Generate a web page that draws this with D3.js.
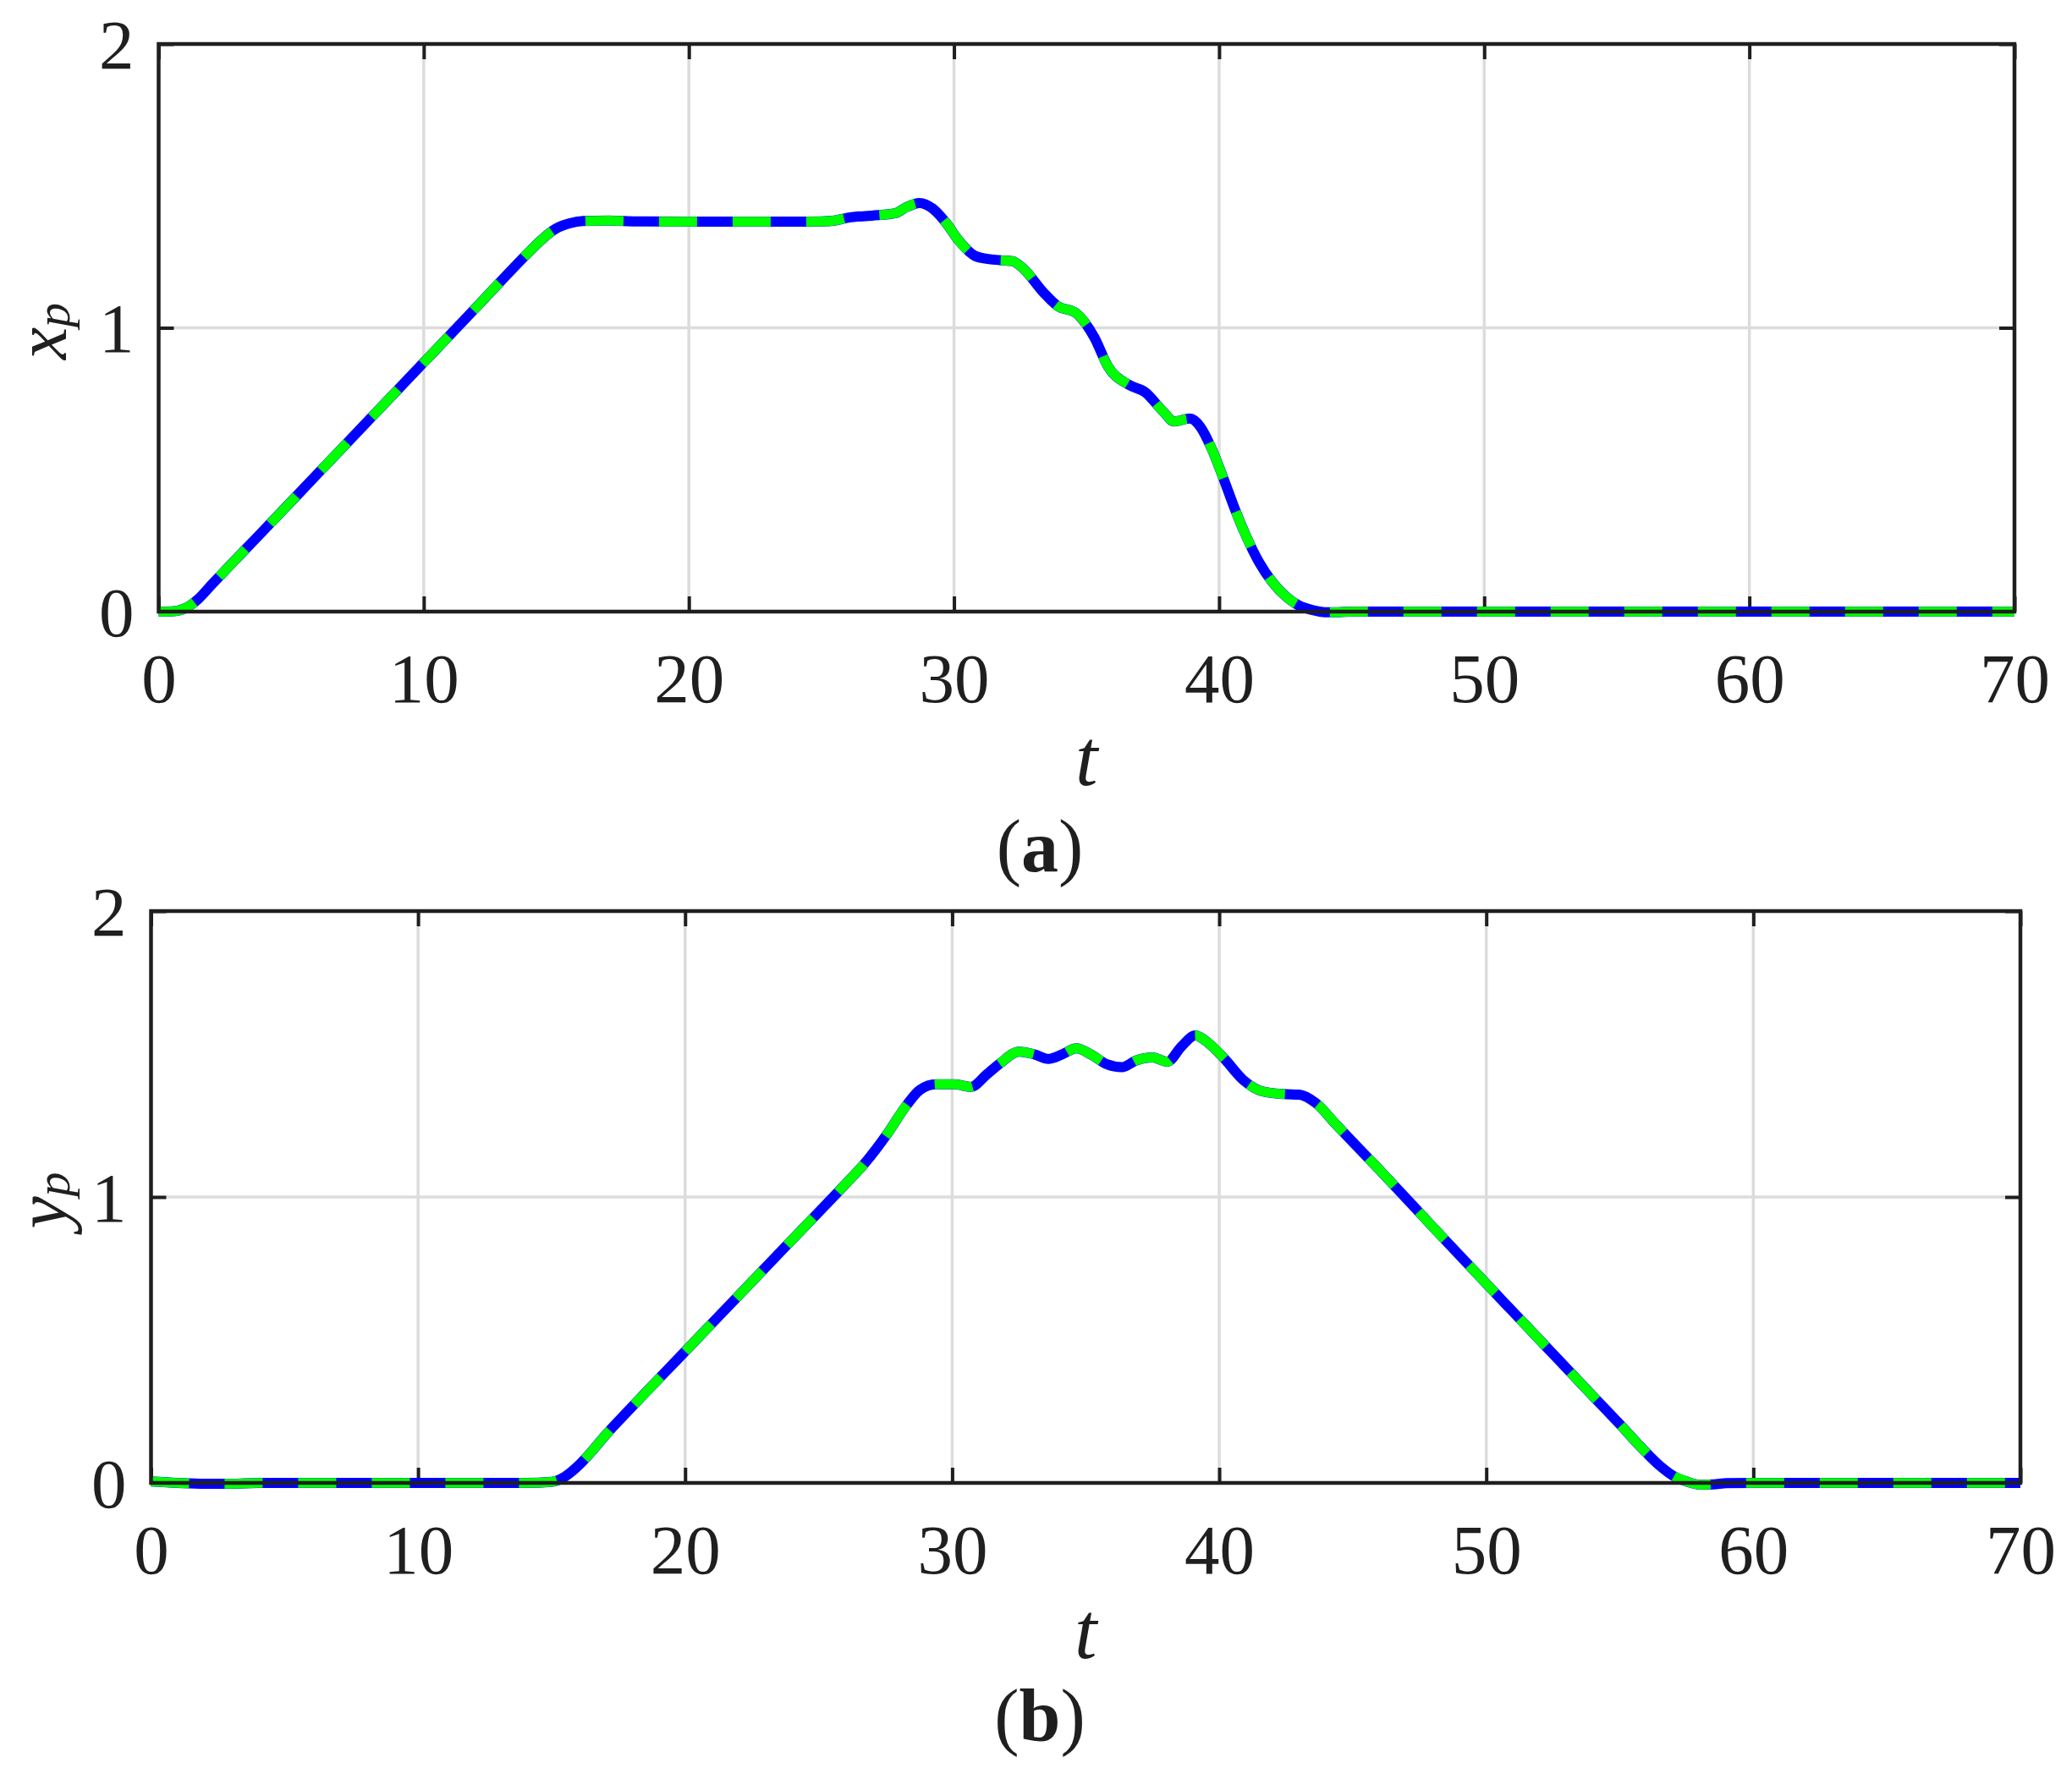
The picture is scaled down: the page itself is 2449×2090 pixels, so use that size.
<!DOCTYPE html>
<html>
<head>
<meta charset="utf-8">
<script src="https://cdn.jsdelivr.net/npm/d3@7"></script>
<style>
  html, body { margin: 0; padding: 0; background: #ffffff; }
  svg { display: block; }
</style>
</head>
<body>
<div id="chart"></div>
<script>
// ---------------- DATA ----------------
const xTicks = [0, 10, 20, 30, 40, 50, 60, 70];
const yTicks = [0, 1, 2];

// Panel (a): x_p(t)
const tA = [0, 0.5, 1, 1.5, 2, 3, 4, 6, 8, 10, 12, 14, 14.5, 15, 15.5, 16, 17, 18, 20, 22, 24, 25, 25.5, 26, 26.9, 27.8, 28.2, 28.7, 29.2, 29.7, 30.2, 30.8, 31.4, 32.2, 32.6, 33.4, 33.9, 34.6, 35.3, 35.8, 36.6, 37.2, 37.9, 38.3, 38.9, 39.3, 39.7, 40.2, 40.6, 41, 41.5, 42, 42.5, 43, 43.5, 44, 44.5, 45, 50, 60, 70];
const xpRef = [0, 0.001, 0.012, 0.045, 0.095, 0.193, 0.29, 0.486, 0.682, 0.878, 1.074, 1.27, 1.315, 1.35, 1.368, 1.376, 1.378, 1.375, 1.374, 1.374, 1.374, 1.375, 1.378, 1.388, 1.395, 1.404, 1.425, 1.44, 1.42, 1.37, 1.305, 1.253, 1.241, 1.235, 1.21, 1.122, 1.077, 1.052, 0.965, 0.865, 0.799, 0.774, 0.704, 0.67, 0.68, 0.65, 0.578, 0.46, 0.36, 0.27, 0.175, 0.105, 0.055, 0.022, 0.006, -0.002, -0.002, 0, 0, 0, 0];
const xpAct = xpRef.slice();

// Panel (b): y_p(t)
const tB = [0, 1, 2, 3, 4, 6, 10, 14, 15, 15.5, 16, 16.5, 17, 18, 20, 22, 24, 26, 26.7, 27.6, 28.3, 28.8, 29.4, 30.1, 30.7, 31.3, 31.8, 32.5, 33.1, 33.6, 34.1, 34.65, 35.2, 35.8, 36.35, 36.9, 37.5, 38.05, 38.6, 39.1, 39.6, 40.2, 40.9, 41.6, 42.4, 43, 43.6, 44.4, 46, 48, 50, 52, 54, 55, 56, 56.5, 57, 57.5, 58, 58.5, 59, 60, 65, 70];
const ypRef = [0.005, 0.0, -0.003, -0.003, 0, 0, 0, 0, 0.004, 0.022, 0.06, 0.11, 0.165, 0.265, 0.46, 0.655, 0.85, 1.045, 1.115, 1.225, 1.322, 1.375, 1.394, 1.394, 1.385, 1.429, 1.468, 1.508, 1.498, 1.483, 1.498, 1.52, 1.498, 1.464, 1.454, 1.478, 1.488, 1.473, 1.528, 1.565, 1.538, 1.483, 1.409, 1.37, 1.36, 1.358, 1.33, 1.251, 1.095, 0.895, 0.697, 0.5, 0.303, 0.205, 0.105, 0.06, 0.025, 0.005, -0.006, -0.005, -0.001, 0, 0, 0];
const ypAct = ypRef.slice();

// ---------------- LAYOUT ----------------
const W = 2449, H = 2090;
const panels = [
  { t: tA, ref: xpRef, act: xpAct, x0: 187.5, x1: 2381, y0: 52, y1: 723, ylab: "x", sub: "p", ylabX: 78, cap: "a", capX: 1229, capY: 1030, tlabY: 928 },
  { t: tB, ref: ypRef, act: ypAct, x0: 178.5, x1: 2388, y0: 1077, y1: 1753, ylab: "y", sub: "p", ylabX: 78, cap: "b", capX: 1229, capY: 2058, tlabY: 1960 }
];

const FONT = "'Liberation Serif', 'Times New Roman', serif";
const TXT = "#1f1f1f";

const svg = d3.select("#chart").append("svg")
  .attr("width", W).attr("height", H)
  .attr("viewBox", `0 0 ${W} ${H}`);
svg.append("rect").attr("width", W).attr("height", H).attr("fill", "#fff");

panels.forEach(p => {
  const x = d3.scaleLinear().domain([0, 70]).range([p.x0, p.x1]);
  const y = d3.scaleLinear().domain([0, 2]).range([p.y1, p.y0]);
  const g = svg.append("g");

  // grid
  g.append("g").selectAll("line").data(xTicks.slice(1, -1)).join("line")
    .attr("x1", d => x(d)).attr("x2", d => x(d)).attr("y1", p.y0).attr("y2", p.y1)
    .attr("stroke", "#dcdcdc").attr("stroke-width", 3.5);
  g.append("g").selectAll("line").data(yTicks.slice(1, -1)).join("line")
    .attr("y1", d => y(d)).attr("y2", d => y(d)).attr("x1", p.x0).attr("x2", p.x1)
    .attr("stroke", "#dcdcdc").attr("stroke-width", 3.5);

  // axes via d3 (ticks inward)
  const tl = 18;
  const axB = g.append("g").attr("transform", `translate(0,${p.y1})`)
    .call(d3.axisBottom(x).tickValues(xTicks).tickSize(-tl).tickPadding(30).tickFormat(d3.format("d")));
  const axT = g.append("g").attr("transform", `translate(0,${p.y0})`)
    .call(d3.axisTop(x).tickValues(xTicks).tickSize(-tl).tickFormat(""));
  const axL = g.append("g").attr("transform", `translate(${p.x0},0)`)
    .call(d3.axisLeft(y).tickValues(yTicks).tickSize(-tl).tickPadding(29).tickFormat(d3.format("d")));
  const axR = g.append("g").attr("transform", `translate(${p.x1},0)`)
    .call(d3.axisRight(y).tickValues(yTicks).tickSize(-tl).tickFormat(""));
  [axB, axT, axL, axR].forEach(a => {
    a.select(".domain").remove();
    a.selectAll(".tick line").attr("stroke", TXT).attr("stroke-width", 4);
    a.selectAll("text").attr("font-family", FONT).attr("font-size", 83).attr("fill", TXT);
  });
  axB.selectAll("text").attr("dy", null).attr("y", 107).attr("dominant-baseline", "alphabetic");
  axL.selectAll("text").attr("dy", "0.34em");

  // lines
  const data = p.t.map((t, i) => ({ t, r: p.ref[i], a: p.act[i] }));
  const lineR = d3.line().x(d => x(d.t)).y(d => y(d.r)).curve(d3.curveMonotoneX);
  const lineA = d3.line().x(d => x(d.t)).y(d => y(d.a)).curve(d3.curveMonotoneX);
  g.append("path").datum(data).attr("d", lineR)
    .attr("fill", "none").attr("stroke", "#0000ff").attr("stroke-width", 12)
    .attr("stroke-linejoin", "round");
  g.append("path").datum(data).attr("d", lineA)
    .attr("fill", "none").attr("stroke", "#00ff00").attr("stroke-width", 11.5)
    .attr("stroke-dasharray", "45,42").attr("stroke-linejoin", "round");

  // box
  g.append("rect").attr("x", p.x0).attr("y", p.y0)
    .attr("width", p.x1 - p.x0).attr("height", p.y1 - p.y0)
    .attr("fill", "none").attr("stroke", TXT).attr("stroke-width", 4.5);

  // x label
  g.append("text").attr("x", (p.x0 + p.x1) / 2).attr("y", p.tlabY)
    .attr("text-anchor", "middle").attr("font-family", FONT).attr("font-style", "italic")
    .attr("font-size", 95).attr("fill", TXT).text("t");

  // y label
  const cy = (p.y0 + p.y1) / 2 + 4;
  const yl = g.append("text")
    .attr("transform", `translate(${p.ylabX},${cy}) rotate(-90)`)
    .attr("text-anchor", "middle").attr("font-family", FONT).attr("font-style", "italic")
    .attr("font-size", 86).attr("fill", TXT);
  yl.append("tspan").text(p.ylab);
  yl.append("tspan").attr("font-size", 58).attr("dy", 4).text(p.sub);

  // caption
  const cap = g.append("text").attr("x", p.capX).attr("y", p.capY)
    .attr("text-anchor", "middle").attr("font-family", FONT)
    .attr("font-size", 88).attr("fill", TXT);
  cap.append("tspan").text("(");
  cap.append("tspan").attr("font-weight", "bold").text(p.cap);
  cap.append("tspan").text(")");
});
</script>
</body>
</html>
